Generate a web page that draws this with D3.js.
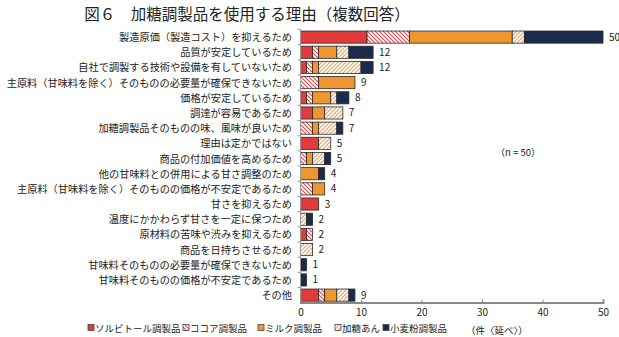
<!DOCTYPE html>
<html><head><meta charset="utf-8">
<script src="https://cdn.jsdelivr.net/npm/d3@7"></script>
<style>
body{margin:0;background:#fff;}
svg text{font-family:"Noto Sans CJK JP","Noto Sans",sans-serif;}
</style></head>
<body><svg id="c" width="619" height="337"></svg>
<script>
const categories = [
 "製造原価（製造コスト）を抑えるため",
 "品質が安定しているため",
 "自社で調製する技術や設備を有していないため",
 "主原料（甘味料を除く）そのものの必要量が確保できないため",
 "価格が安定しているため",
 "調達が容易であるため",
 "加糖調製品そのものの味、風味が良いため",
 "理由は定かではない",
 "商品の付加価値を高めるため",
 "他の甘味料との併用による甘さ調整のため",
 "主原料（甘味料を除く）そのものの価格が不安定であるため",
 "甘さを抑えるため",
 "温度にかかわらず甘さを一定に保つため",
 "原材料の苦味や渋みを抑えるため",
 "商品を日持ちさせるため",
 "甘味料そのものの必要量が確保できないため",
 "甘味料そのものの価格が不安定であるため",
 "その他"
];
const seriesNames = ["ソルビトール調製品","ココア調製品","ミルク調製品","加糖あん","小麦粉調製品"];
const sorbitol = [11,2,1,0,1,2,0,3,0,0,0,3,0,1,0,0,0,3];
const cocoa    = [7,1,1,3,1,0,2,0,1,0,2,0,0,1,0,0,0,1];
const milk     = [17,3,1,6,3,2,1,0,1,3,2,0,0,0,0,0,0,2];
const katoan   = [2,2,7,0,1,3,3,2,2,0,0,0,1,0,2,0,0,2];
const wheat    = [13,4,2,0,2,0,1,0,1,1,0,0,1,0,0,1,1,1];
const xTicks = [0,10,20,30,40,50];
const title = "図６　加糖調製品を使用する理由（複数回答）";
const nNote = "（n = 50）";
const unitNote = "（件〈延べ〉）";

const svg = d3.select("#c");
const defs = svg.append("defs");
function hatch(id, color, dir){
  const p = defs.append("pattern").attr("id", id).attr("patternUnits","userSpaceOnUse")
    .attr("width",4).attr("height",4);
  p.append("rect").attr("width",4).attr("height",4).attr("fill","#fff");
  if(dir>0){
    p.append("path").attr("d","M-1,1 l2,-2 M0,4 l4,-4 M3,5 l2,-2").attr("stroke",color).attr("stroke-width",1.1);
  } else {
    p.append("path").attr("d","M-1,3 l2,2 M0,0 l4,4 M3,-1 l2,2").attr("stroke",color).attr("stroke-width",1.1);
  }
}
hatch("pCocoa","#e0474c",-1);
hatch("pKato","#f0a050",1);
const fills = ["#e23b3b","url(#pCocoa)","#f0962e","url(#pKato)","#1c2a4c"];
const seriesData = [sorbitol,cocoa,milk,katoan,wheat];

const x = d3.scaleLinear().domain([0,50]).range([300.5,603]);
const y = d3.scaleBand().domain(categories).range([29.5,302.7]).paddingInner(0.2).paddingOuter(0.1);

svg.append("text").attr("x",247).attr("y",20).attr("text-anchor","middle")
  .attr("font-size",15.5).attr("fill","#222").text(title);

// bars
const rows = categories.map((c,i)=>{
  let acc=0; const segs=[];
  seriesData.forEach((s,k)=>{ if(s[i]>0){ segs.push({c, k, x0:acc, x1:acc+s[i]}); } acc+=s[i]; });
  return {c, total:acc, segs};
});
const g = svg.append("g");
rows.forEach(r=>{
  g.selectAll(null).data(r.segs).enter().append("rect")
    .attr("x",d=>x(d.x0)).attr("width",d=>x(d.x1)-x(d.x0))
    .attr("y",y(r.c)).attr("height",y.bandwidth())
    .attr("fill",d=>fills[d.k]).attr("stroke","#2a2a2a").attr("stroke-width",0.8);
});
g.selectAll(".val").data(rows).enter().append("text")
  .attr("x",d=>x(d.total)+6).attr("y",d=>y(d.c)+y.bandwidth()/2+3.5)
  .attr("font-size",10).attr("fill","#222")
  .attr("font-family","'Liberation Sans',Arial,sans-serif").text(d=>d.total);

// y axis
const yAxis = svg.append("g");
yAxis.append("line").attr("x1",x(0)).attr("x2",x(0)).attr("y1",29.5).attr("y2",302.7)
  .attr("stroke","#999").attr("stroke-width",1);
yAxis.selectAll(".yt").data(categories).enter().append("line")
  .attr("x1",x(0)-3).attr("x2",x(0)).attr("y1",d=>y(d)-y.step()*0.1).attr("y2",d=>y(d)-y.step()*0.1)
  .attr("stroke","#999");
yAxis.selectAll(".yl").data(categories).enter().append("text")
  .attr("x",292).attr("y",d=>y(d)+y.bandwidth()/2+4)
  .attr("text-anchor","end").attr("font-size",10.2).attr("fill","#222").text(d=>d);

// x axis
const xa = svg.append("g").attr("transform","translate(0,302.5)")
  .call(d3.axisBottom(x).tickValues(xTicks).tickSize(-3).tickPadding(6).tickFormat(d3.format("d")));
xa.select(".domain").attr("stroke","#888").attr("stroke-width",2);
xa.selectAll(".tick line").attr("stroke","#888");
xa.selectAll(".tick text").attr("font-size",10).attr("fill","#222")
  .attr("font-family","'Liberation Sans',Arial,sans-serif").attr("dy","0.75em");

svg.append("text").attr("x",518).attr("y",156).attr("text-anchor","middle")
  .attr("font-size",9.5).attr("fill","#222").text(nNote);
svg.append("text").attr("x",497).attr("y",334).attr("text-anchor","middle")
  .attr("font-size",9.5).attr("fill","#222").text(unitNote);

// legend
const legX = [88,183,258,335,383];
const leg = svg.append("g");
seriesNames.forEach((n,k)=>{
  leg.append("rect").attr("x",legX[k]).attr("y",324.5).attr("width",6).attr("height",6)
    .attr("fill",fills[k]).attr("stroke","#444").attr("stroke-width",0.8);
  leg.append("text").attr("x",legX[k]+7).attr("y",332).attr("font-size",9.5)
    .attr("fill","#222").text(n);
});
</script></body></html>
